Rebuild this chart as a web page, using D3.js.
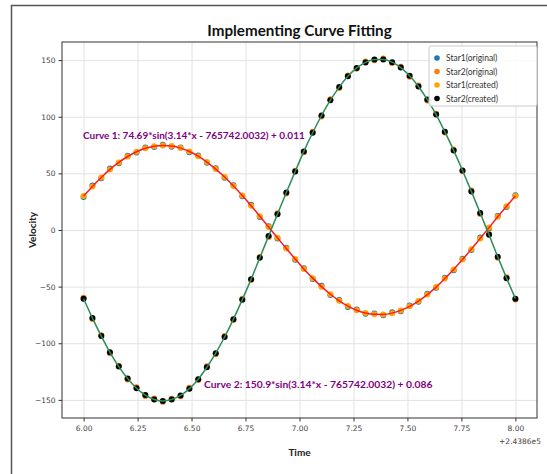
<!DOCTYPE html>
<html>
<head>
<meta charset="utf-8">
<script src="https://cdn.jsdelivr.net/npm/d3@7"></script>
<style>
  body { margin:0; background:#fff; }
  svg { display:block; }
</style>
</head>
<body>
<div id="chart"></div>
<script>
var WIDTH = 547, HEIGHT = 474;

// time offsets (x axis shows them with a +2.4386e5 offset)
var timeVals = [6.000,6.041,6.082,6.122,6.163,6.204,6.245,6.286,6.327,6.367,
  6.408,6.449,6.490,6.531,6.571,6.612,6.653,6.694,6.735,6.776,
  6.816,6.857,6.898,6.939,6.980,7.020,7.061,7.102,7.143,7.184,
  7.224,7.265,7.306,7.347,7.388,7.429,7.469,7.510,7.551,7.592,
  7.633,7.673,7.714,7.755,7.796,7.837,7.878,7.918,7.959,8.000];

var star1Original = [29.2,39.3,45.8,54.3,58.9,65.6,68.4,72.9,73.3,75.3,
  73.5,72.9,68.6,65.8,59.3,54.5,46.1,39.6,29.8,22.2,
  11.5,3.3,-7.6,-15.7,-26.3,-33.7,-43.2,-49.3,-57.4,-61.8,
  -67.9,-70.1,-74.0,-73.8,-75.3,-72.7,-71.7,-66.7,-63.4,-56.3,
  -51.1,-42.2,-35.5,-25.3,-17.6,-6.7,1.4,12.4,20.3,30.7];

var star2Original = [-59.8,-78.6,-92.9,-108.8,-119.8,-132.0,-138.9,-146.6,-148.8,-151.7,
  -148.9,-146.9,-139.3,-132.5,-120.4,-109.6,-93.7,-79.5,-60.7,-44.2,
  -23.8,-6.1,14.8,32.3,52.4,68.6,86.7,100.3,115.4,125.4,
  136.5,142.3,148.8,149.8,151.4,147.4,144.2,135.4,127.5,114.4,
  102.7,86.0,71.1,51.8,34.9,14.2,-3.5,-24.4,-41.7,-61.4];

var star1Created = [30.0,38.5,46.4,53.5,59.7,64.9,69.1,72.2,74.0,74.7,
  74.1,72.3,69.3,65.2,60.0,53.8,46.8,38.9,30.5,21.5,
  12.2,2.6,-6.9,-16.4,-25.6,-34.4,-42.5,-50.0,-56.7,-62.5,
  -67.2,-70.8,-73.3,-74.5,-74.6,-73.4,-71.0,-67.4,-62.7,-57.0,
  -50.4,-42.9,-34.8,-26.0,-16.9,-7.4,2.1,11.7,21.0,30.0];

var star2Created = [-60.6,-77.8,-93.7,-108.0,-120.6,-131.2,-139.7,-145.8,-149.6,-150.9,
  -149.7,-146.1,-140.1,-131.7,-121.2,-108.8,-94.5,-78.7,-61.5,-43.4,
  -24.6,-5.3,14.0,33.1,51.6,69.4,85.9,101.1,114.6,126.2,
  135.7,143.1,148.0,150.6,150.6,148.2,143.4,136.2,126.7,115.2,
  101.9,86.8,70.3,52.6,34.1,15.0,-4.3,-23.6,-42.5,-60.6];

var xTicks = [6.00,6.25,6.50,6.75,7.00,7.25,7.50,7.75,8.00];
var yTicks = [-150,-100,-50,0,50,100,150];

var legendLabels = ["Star1(original)","Star2(original)","Star1(created)","Star2(created)"];
var legendColors = ["#1f77b4","#ff7f0e","#ffa500","#000000"];

var MARGIN = {left:62, right:537, top:42, bottom:418};

var svg = d3.select("#chart").append("svg")
  .attr("width", WIDTH)
  .attr("height", HEIGHT)
  .style("font-family","Lato, 'DejaVu Sans', sans-serif");

svg.append("rect").attr("width",WIDTH).attr("height",HEIGHT).attr("fill","#fff");

// marco exterior de la captura
svg.append("path")
  .attr("d","M11.5,474 L11.5,5.5 L547,5.5")
  .attr("fill","none")
  .attr("stroke","#555")
  .attr("stroke-width",1.5);

var scaleX = d3.scaleLinear().domain([5.9,8.1]).range([MARGIN.left, MARGIN.right]);
var scaleY = d3.scaleLinear().domain([-166,166]).range([MARGIN.bottom, MARGIN.top]);

// grids
svg.append("g")
  .attr("transform","translate(0,"+MARGIN.bottom+")")
  .call(d3.axisBottom(scaleX).tickValues(xTicks).tickSize(-(MARGIN.bottom-MARGIN.top)).tickFormat(""))
  .call(function(g){ g.select(".domain").remove(); })
  .selectAll("line").attr("stroke","#e2e2e2").attr("stroke-width",1);

svg.append("g")
  .attr("transform","translate("+MARGIN.left+",0)")
  .call(d3.axisLeft(scaleY).tickValues(yTicks).tickSize(-(MARGIN.right-MARGIN.left)).tickFormat(""))
  .call(function(g){ g.select(".domain").remove(); })
  .selectAll("line").attr("stroke","#e2e2e2").attr("stroke-width",1);

// ejes
var xAxis = svg.append("g")
  .attr("transform","translate(0,"+MARGIN.bottom+")")
  .call(d3.axisBottom(scaleX).tickValues(xTicks).tickSize(3.5).tickPadding(4).tickFormat(d3.format(".2f")));
var yAxis = svg.append("g")
  .attr("transform","translate("+MARGIN.left+",0)")
  .call(d3.axisLeft(scaleY).tickValues(yTicks).tickSize(3.5).tickPadding(3).tickFormat(function(d){ return d<0 ? "\u2212"+(-d) : d; }));
[xAxis,yAxis].forEach(function(a){
  a.select(".domain").remove();
  a.selectAll("line").attr("stroke","#333");
  a.selectAll("text").attr("fill","#444").style("font-size","7.5px").style("font-family","'DejaVu Sans', sans-serif");
});

// spines
svg.append("rect")
  .attr("x",MARGIN.left).attr("y",MARGIN.top)
  .attr("width",MARGIN.right-MARGIN.left).attr("height",MARGIN.bottom-MARGIN.top)
  .attr("fill","none").attr("stroke","#333").attr("stroke-width",1);

// puntos
function scatter(values, color){
  svg.append("g").selectAll("circle")
    .data(values)
    .enter()
    .append("circle")
    .attr("cx",function(d,i){ return scaleX(timeVals[i]); })
    .attr("cy",function(d){ return scaleY(d); })
    .attr("r",3)
    .attr("fill",color);
}
scatter(star1Original, legendColors[0]);
scatter(star2Original, legendColors[1]);
scatter(star1Created, legendColors[2]);
scatter(star2Created, legendColors[3]);

// curvas ajustadas
var line1 = d3.line().x(function(d,i){ return scaleX(timeVals[i]); }).y(function(d){ return scaleY(d); }).curve(d3.curveMonotoneX);
svg.append("path").datum(star1Created).attr("d",line1).attr("fill","none").attr("stroke","#ff1a1a").attr("stroke-width",1.5);
svg.append("path").datum(star2Created).attr("d",line1).attr("fill","none").attr("stroke","#2e8b57").attr("stroke-width",1.5);

// anotaciones
svg.append("text")
  .attr("x",83).attr("y",139)
  .style("font-size","10px").style("font-weight","bold")
  .attr("fill","#800080")
  .text("Curve 1: 74.69*sin(3.14*x - 765742.0032) + 0.011");
svg.append("text")
  .attr("x",204).attr("y",388)
  .style("font-size","10.3px").style("font-weight","bold")
  .attr("fill","#800080")
  .text("Curve 2: 150.9*sin(3.14*x - 765742.0032) + 0.086");

// titulo y etiquetas
svg.append("text")
  .attr("x",(MARGIN.left+MARGIN.right)/2).attr("y",36)
  .style("text-anchor","middle").style("font-size","15.2px").style("font-weight","bold")
  .attr("fill","#111")
  .text("Implementing Curve Fitting");
svg.append("text")
  .attr("x",(MARGIN.left+MARGIN.right)/2).attr("y",456)
  .style("text-anchor","middle").style("font-size","10px").style("font-weight","bold")
  .attr("fill","#222")
  .text("Time");
svg.append("text")
  .attr("transform","translate(36,"+((MARGIN.top+MARGIN.bottom)/2)+") rotate(-90)")
  .style("text-anchor","middle").style("font-size","10px").style("font-weight","bold")
  .attr("fill","#222")
  .text("Velocity");
svg.append("text")
  .attr("x",541).attr("y",444)
  .style("text-anchor","end").style("font-size","7.5px").style("font-family","'DejaVu Sans', sans-serif")
  .attr("fill","#444")
  .text("+2.4386e5");

// leyenda
var legend = svg.append("g").attr("transform","translate(429,46)");
legend.append("rect")
  .attr("width",108).attr("height",60).attr("rx",2)
  .attr("fill","#fff").attr("fill-opacity",0.85)
  .attr("stroke","#ccc");
legendLabels.forEach(function(lab,i){
  legend.append("circle").attr("cx",8).attr("cy",12+i*13.5).attr("r",2.8).attr("fill",legendColors[i]);
  legend.append("text").attr("x",17).attr("y",15+i*13.5)
    .style("font-size","8.5px").attr("fill","#333").text(lab);
});
</script>
</body>
</html>
